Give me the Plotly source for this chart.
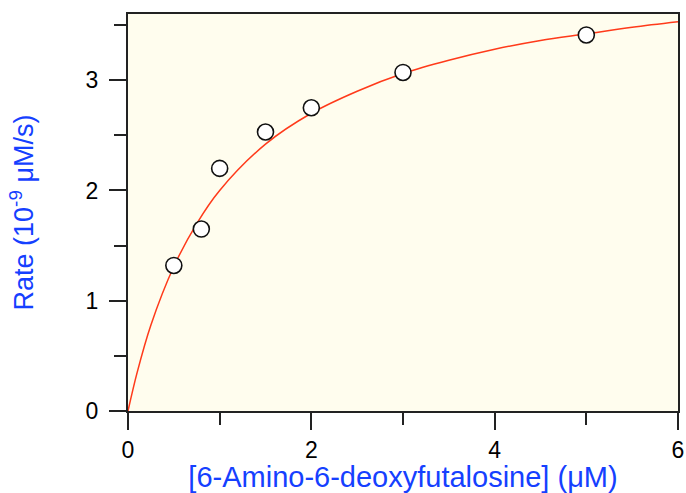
import plotly.graph_objects as go

# measured data points
conc = [0.5, 0.8, 1.0, 1.5, 2.0, 3.0, 5.0]
rate = [1.32, 1.65, 2.20, 2.53, 2.75, 3.07, 3.41]

# fitted curve, values
fit_x = [0, 0.1, 0.25, 0.5, 0.75, 1.0, 1.5, 2.0, 2.5, 3.0, 3.5, 4.0, 4.5, 5.0, 5.5, 6.0]
fit_y = [0, 0.35, 0.78, 1.31, 1.70, 2.00, 2.42, 2.70, 2.90, 3.06, 3.18, 3.28, 3.36, 3.42, 3.48, 3.53]

x_ticks = [0, 2, 4, 6]
y_ticks = [0, 1, 2, 3]

blue = "#1540ff"
axis_col = "#222222"

fig = go.Figure()
fig.add_trace(go.Scatter(x=fit_x, y=fit_y, mode="lines", line=dict(color="#ff3a1a", width=1.5, shape="spline"),
                         hoverinfo="skip", showlegend=False))
fig.add_trace(go.Scatter(x=conc, y=rate, mode="markers",
                         marker=dict(size=16, color="white", line=dict(color="#111111", width=1.6)),
                         showlegend=False, cliponaxis=False))

fig.update_layout(
    width=686, height=493,
    margin=dict(l=128, r=8, t=14, b=82, autoexpand=False),
    paper_bgcolor="white",
    plot_bgcolor="#fffdee",
    font=dict(family="Liberation Sans, Arial, sans-serif", size=23, color="black"),
    xaxis=dict(
        range=[0, 6], tickvals=x_ticks, ticktext=[str(v) for v in x_ticks],
        automargin=False, ticklabeloverflow="allow",
        showgrid=False, zeroline=False, showline=True, mirror=True, linecolor=axis_col, linewidth=2,
        ticks="outside", ticklen=17, tickwidth=2, tickcolor=axis_col,
        minor=dict(dtick=1, ticks="outside", ticklen=12, tickwidth=2, tickcolor=axis_col),
        tickfont=dict(size=23, color="black"),
        title=dict(text="[6-Amino-6-deoxyfutalosine] (μM)", font=dict(size=29, color=blue), standoff=0),
    ),
    yaxis=dict(
        range=[0, 3.6], tickvals=y_ticks, ticktext=[str(v) for v in y_ticks],
        automargin=False,
        showgrid=False, zeroline=False, showline=True, mirror=True, linecolor=axis_col, linewidth=2,
        ticks="outside", ticklen=17, tickwidth=2, tickcolor=axis_col,
        minor=dict(dtick=0.5, ticks="outside", ticklen=12, tickwidth=2, tickcolor=axis_col),
        tickfont=dict(size=23, color="black"), ticklabelstandoff=6,
        title=dict(text="Rate (10<sup>-9</sup> μM/s)", font=dict(size=27, color=blue), standoff=44),
    ),
)

fig.write_html("out.html", config={"displayModeBar": False},
               post_script="document.body.style.margin='0';document.body.style.overflow='hidden';")
